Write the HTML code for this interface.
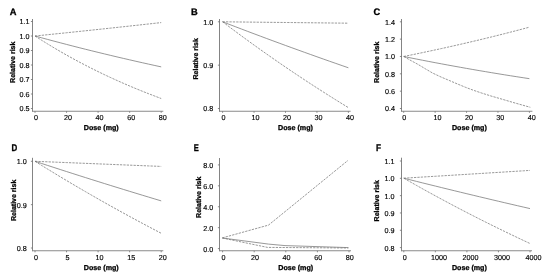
<!DOCTYPE html>
<html>
<head>
<meta charset="utf-8">
<title>Dose-response plots</title>
<style>
html,body{margin:0;padding:0;background:#fff;}
body{width:550px;height:278px;overflow:hidden;}
svg{display:block;filter:blur(0.35px);}
text{font-family:"Liberation Sans", sans-serif;fill:#000;text-rendering:geometricPrecision;}
.t{font-size:7.2px;stroke:#000;stroke-width:0.15;}
.b{font-size:7.15px;font-weight:bold;stroke:#000;stroke-width:0.28;}
.l{font-weight:bold;fill:#000;stroke:#000;stroke-width:0.3;}
.ax{stroke:#8a8a8a;stroke-width:1.1;fill:none;}
.ay{stroke:#6e6e6e;stroke-width:0.85;fill:none;}
.tk{stroke:#6e6e6e;stroke-width:0.8;fill:none;}
.s{stroke:#767676;stroke-width:0.75;fill:none;}
.d{stroke:#767676;stroke-width:0.75;fill:none;stroke-dasharray:2.3 1.1;}
</style>
</head>
<body>
<svg width="550" height="278" viewBox="0 0 550 278">
<rect x="0" y="0" width="550" height="278" fill="#ffffff"/>
<g>
<text class="l" font-size="9.3" transform="translate(9.8 14.9) scale(1 1)">A</text>
<path class="ay" d="M32.5 19V111.7"/>
<path class="ax" d="M32.1 111.3H163.3"/>
<path class="tk" d="M30.9 21.5H32.5"/><text class="t" x="29.6" y="24.45" text-anchor="end">1.1</text>
<path class="tk" d="M30.9 36H32.5"/><text class="t" x="29.6" y="38.95" text-anchor="end">1.0</text>
<path class="tk" d="M30.9 50.5H32.5"/><text class="t" x="29.6" y="53.45" text-anchor="end">0.9</text>
<path class="tk" d="M30.9 65H32.5"/><text class="t" x="29.6" y="67.95" text-anchor="end">0.8</text>
<path class="tk" d="M30.9 79.5H32.5"/><text class="t" x="29.6" y="82.45" text-anchor="end">0.7</text>
<path class="tk" d="M30.9 94H32.5"/><text class="t" x="29.6" y="96.95" text-anchor="end">0.6</text>
<path class="tk" d="M30.9 108.5H32.5"/><text class="t" x="29.6" y="111.45" text-anchor="end">0.5</text>
<path class="tk" d="M35 111.3V112.8"/><text class="t" x="35.9" y="119.9" text-anchor="middle">0</text>
<path class="tk" d="M66.55 111.3V112.8"/><text class="t" x="68.05" y="119.9" text-anchor="middle">20</text>
<path class="tk" d="M98.1 111.3V112.8"/><text class="t" x="99.6" y="119.9" text-anchor="middle">40</text>
<path class="tk" d="M129.65 111.3V112.8"/><text class="t" x="131.15" y="119.9" text-anchor="middle">60</text>
<path class="tk" d="M161.2 111.3V112.8"/><text class="t" x="162.7" y="119.9" text-anchor="middle">80</text>
<text class="b" x="101.3" y="130.2" text-anchor="middle">Dose (mg)</text>
<text class="b" style="font-size:7px" transform="translate(15 62.25) rotate(-90)" text-anchor="middle">Relative risk</text>
<path class="s" d="M35 36L41.31 37.73L47.62 39.43L53.93 41.12L60.24 42.78L66.55 44.43L72.86 46.05L79.17 47.66L85.48 49.25L91.79 50.82L98.1 52.37L104.41 53.9L110.72 55.41L117.03 56.91L123.34 58.38L129.65 59.84L135.96 61.29L142.27 62.71L148.58 64.12L154.89 65.51L161.2 66.88"/>
<path class="d" d="M35 36L41.31 35.36L47.62 34.71L53.93 34.06L60.24 33.41L66.55 32.76L72.86 32.1L79.17 31.44L85.48 30.78L91.79 30.11L98.1 29.44L104.41 28.77L110.72 28.1L117.03 27.42L123.34 26.74L129.65 26.05L135.96 25.37L142.27 24.68L148.58 23.98L154.89 23.29L161.2 22.59"/>
<path class="d" d="M35 36L41.31 40.03L47.62 43.95L53.93 47.76L60.24 51.46L66.55 55.07L72.86 58.57L79.17 61.97L85.48 65.28L91.79 68.5L98.1 71.62L104.41 74.66L110.72 77.62L117.03 80.49L123.34 83.29L129.65 86L135.96 88.65L142.27 91.21L148.58 93.71L154.89 96.14L161.2 98.5"/>
</g>
<g>
<text class="l" font-size="9.3" transform="translate(191.1 14.9) scale(1 1)">B</text>
<path class="ay" d="M219.5 19V111.7"/>
<path class="ax" d="M219.1 111.3H350.6"/>
<path class="tk" d="M217.9 21.8H219.5"/><text class="t" x="213.2" y="24.75" text-anchor="end">1.0</text>
<path class="tk" d="M217.9 65.15H219.5"/><text class="t" x="213.2" y="68.1" text-anchor="end">0.9</text>
<path class="tk" d="M217.9 108.5H219.5"/><text class="t" x="213.2" y="111.45" text-anchor="end">0.8</text>
<path class="tk" d="M222.6 111.3V112.8"/><text class="t" x="223.5" y="119.9" text-anchor="middle">0</text>
<path class="tk" d="M254.05 111.3V112.8"/><text class="t" x="255.55" y="119.9" text-anchor="middle">10</text>
<path class="tk" d="M285.5 111.3V112.8"/><text class="t" x="287" y="119.9" text-anchor="middle">20</text>
<path class="tk" d="M316.95 111.3V112.8"/><text class="t" x="318.45" y="119.9" text-anchor="middle">30</text>
<path class="tk" d="M348.4 111.3V112.8"/><text class="t" x="349.9" y="119.9" text-anchor="middle">40</text>
<text class="b" x="295.5" y="130.2" text-anchor="middle">Dose (mg)</text>
<text class="b" style="font-size:7px" transform="translate(197.8 58.85) rotate(-90)" text-anchor="middle">Relative risk</text>
<path class="s" d="M222.6 21.8L228.89 24.22L235.18 26.64L241.47 29.03L247.76 31.42L254.05 33.79L260.34 36.14L266.63 38.49L272.92 40.82L279.21 43.14L285.5 45.44L291.79 47.73L298.08 50.01L304.37 52.28L310.66 54.53L316.95 56.77L323.24 59L329.53 61.22L335.82 63.42L342.11 65.62L348.4 67.79"/>
<path class="d" d="M222.6 21.8L228.89 21.87L235.18 21.94L241.47 22.01L247.76 22.08L254.05 22.15L260.34 22.22L266.63 22.29L272.92 22.36L279.21 22.42L285.5 22.49L291.79 22.56L298.08 22.63L304.37 22.7L310.66 22.77L316.95 22.84L323.24 22.91L329.53 22.98L335.82 23.05L342.11 23.12L348.4 23.19"/>
<path class="d" d="M222.6 21.8L228.89 26.56L235.18 31.26L241.47 35.91L247.76 40.51L254.05 45.07L260.34 49.57L266.63 54.02L272.92 58.42L279.21 62.77L285.5 67.08L291.79 71.34L298.08 75.55L304.37 79.72L310.66 83.84L316.95 87.92L323.24 91.95L329.53 95.93L335.82 99.88L342.11 103.78L348.4 107.63"/>
</g>
<g>
<text class="l" font-size="9.3" transform="translate(373.6 14.9) scale(1 1)">C</text>
<path class="ay" d="M401.5 19V111.7"/>
<path class="ax" d="M401.1 111.3H532.4"/>
<path class="tk" d="M399.9 21.8H401.5"/><text class="t" x="395" y="24.75" text-anchor="end">1.4</text>
<path class="tk" d="M399.9 39.14H401.5"/><text class="t" x="395" y="42.09" text-anchor="end">1.2</text>
<path class="tk" d="M399.9 56.48H401.5"/><text class="t" x="395" y="59.43" text-anchor="end">1.0</text>
<path class="tk" d="M399.9 73.82H401.5"/><text class="t" x="395" y="76.77" text-anchor="end">0.8</text>
<path class="tk" d="M399.9 91.16H401.5"/><text class="t" x="395" y="94.11" text-anchor="end">0.6</text>
<path class="tk" d="M399.9 108.5H401.5"/><text class="t" x="395" y="111.45" text-anchor="end">0.4</text>
<path class="tk" d="M403.7 111.3V112.8"/><text class="t" x="404.2" y="119.9" text-anchor="middle">0</text>
<path class="tk" d="M435.12 111.3V112.8"/><text class="t" x="437.52" y="119.9" text-anchor="middle">10</text>
<path class="tk" d="M466.55 111.3V112.8"/><text class="t" x="468.95" y="119.9" text-anchor="middle">20</text>
<path class="tk" d="M497.97 111.3V112.8"/><text class="t" x="500.37" y="119.9" text-anchor="middle">30</text>
<path class="tk" d="M529.4 111.3V112.8"/><text class="t" x="531.8" y="119.9" text-anchor="middle">40</text>
<text class="b" x="469.4" y="130.2" text-anchor="middle">Dose (mg)</text>
<text class="b" style="font-size:7px" transform="translate(379.1 62.25) rotate(-90)" text-anchor="middle">Relative risk</text>
<path class="s" d="M403.7 56.48L409.99 57.75L416.27 59.01L422.56 60.24L428.84 61.46L435.12 62.66L441.41 63.84L447.69 65L453.98 66.15L460.26 67.28L466.55 68.4L472.83 69.49L479.12 70.58L485.4 71.64L491.69 72.69L497.97 73.73L504.26 74.75L510.54 75.75L516.83 76.74L523.12 77.71L529.4 78.68"/>
<path class="d" d="M403.7 56.48L409.99 55.21L416.27 53.92L422.56 52.61L428.84 51.28L435.12 49.93L441.41 48.57L447.69 47.18L453.98 45.77L460.26 44.34L466.55 42.89L472.83 41.42L479.12 39.93L485.4 38.42L491.69 36.88L497.97 35.32L504.26 33.74L510.54 32.13L516.83 30.5L523.12 28.85L529.4 27.18"/>
<path class="d" d="M403.8 56.5L411 60.6L418.2 64.5L425.5 68.9L432.7 73.1L441 77L449.1 80.4L457.5 84L465.5 87.3L473.5 90.3L481.8 93.1L491 96L500 98.6L515 103L530.3 107.3"/>
</g>
<g>
<text class="l" font-size="9.7" transform="translate(11.6 151) scale(0.82 1)">D</text>
<path class="ay" d="M32.5 157.8V251.2"/>
<path class="ax" d="M32.1 250.8H163.3"/>
<path class="tk" d="M30.9 161.3H32.5"/><text class="t" x="26.8" y="164.25" text-anchor="end">1.0</text>
<path class="tk" d="M30.9 204.65H32.5"/><text class="t" x="26.8" y="207.6" text-anchor="end">0.9</text>
<path class="tk" d="M30.9 248H32.5"/><text class="t" x="26.8" y="250.95" text-anchor="end">0.8</text>
<path class="tk" d="M35 250.8V252.3"/><text class="t" x="35.9" y="260" text-anchor="middle">0</text>
<path class="tk" d="M66.55 250.8V252.3"/><text class="t" x="67.45" y="260" text-anchor="middle">5</text>
<path class="tk" d="M98.1 250.8V252.3"/><text class="t" x="99.6" y="260" text-anchor="middle">10</text>
<path class="tk" d="M129.65 250.8V252.3"/><text class="t" x="131.15" y="260" text-anchor="middle">15</text>
<path class="tk" d="M161.2 250.8V252.3"/><text class="t" x="162.7" y="260" text-anchor="middle">20</text>
<text class="b" x="101.3" y="270.2" text-anchor="middle">Dose (mg)</text>
<text class="b" style="font-size:7px" transform="translate(15.5 200.35) rotate(-90)" text-anchor="middle">Relative risk</text>
<path class="s" d="M35 161.3L41.31 163.37L47.62 165.43L53.93 167.48L60.24 169.52L66.55 171.55L72.86 173.57L79.17 175.59L85.48 177.59L91.79 179.58L98.1 181.56L104.41 183.54L110.72 185.5L117.03 187.45L123.34 189.4L129.65 191.34L135.96 193.26L142.27 195.18L148.58 197.09L154.89 198.99L161.2 200.88"/>
<path class="d" d="M35 161.3L41.31 161.56L47.62 161.81L53.93 162.07L60.24 162.33L66.55 162.58L72.86 162.84L79.17 163.1L85.48 163.35L91.79 163.61L98.1 163.87L104.41 164.12L110.72 164.38L117.03 164.63L123.34 164.89L129.65 165.14L135.96 165.4L142.27 165.65L148.58 165.91L154.89 166.16L161.2 166.42"/>
<path class="d" d="M35 161.3L41.31 165.22L47.62 169.1L53.93 172.94L60.24 176.76L66.55 180.53L72.86 184.28L79.17 187.98L85.48 191.66L91.79 195.3L98.1 198.91L104.41 202.49L110.72 206.03L117.03 209.55L123.34 213.03L129.65 216.48L135.96 219.89L142.27 223.28L148.58 226.64L154.89 229.96L161.2 233.26"/>
</g>
<g>
<text class="l" font-size="9.7" transform="translate(193.8 151) scale(0.78 1)">E</text>
<path class="ay" d="M219.5 158V251.2"/>
<path class="ax" d="M219.1 250.8H351"/>
<path class="tk" d="M217.9 164.9H219.5"/><text class="t" x="213.2" y="167.85" text-anchor="end">8.0</text>
<path class="tk" d="M217.9 185.82H219.5"/><text class="t" x="213.2" y="188.77" text-anchor="end">6.0</text>
<path class="tk" d="M217.9 206.75H219.5"/><text class="t" x="213.2" y="209.7" text-anchor="end">4.0</text>
<path class="tk" d="M217.9 227.68H219.5"/><text class="t" x="213.2" y="230.62" text-anchor="end">2.0</text>
<path class="tk" d="M217.9 248.6H219.5"/><text class="t" x="213.2" y="251.55" text-anchor="end">0.0</text>
<path class="tk" d="M222.6 250.8V252.3"/><text class="t" x="223.5" y="260.3" text-anchor="middle">0</text>
<path class="tk" d="M254.2 250.8V252.3"/><text class="t" x="255" y="260.3" text-anchor="middle">20</text>
<path class="tk" d="M285.8 250.8V252.3"/><text class="t" x="286.6" y="260.3" text-anchor="middle">40</text>
<path class="tk" d="M317.4 250.8V252.3"/><text class="t" x="318.2" y="260.3" text-anchor="middle">60</text>
<path class="tk" d="M349 250.8V252.3"/><text class="t" x="349.8" y="260.3" text-anchor="middle">80</text>
<text class="b" x="295.7" y="269.7" text-anchor="middle">Dose (mg)</text>
<text class="b" style="font-size:7px" transform="translate(200.6 197.25) rotate(-90)" text-anchor="middle">Relative risk</text>
<path class="s" d="M222.3 238L268.5 244.1L285 245.6L348.4 247.6"/>
<path class="d" d="M222.3 237.9L268.5 225.1L348 160.4"/>
<path class="d" d="M222.3 238L267.5 247.4L348.4 248"/>
</g>
<g>
<text class="l" font-size="9.7" transform="translate(375.9 150.8) scale(0.85 1)">F</text>
<path class="ay" d="M401.5 157.7V251.2"/>
<path class="ax" d="M401.1 250.8H532"/>
<path class="tk" d="M399.9 161H401.5"/><text class="t" x="394.6" y="163.95" text-anchor="end">1.1</text>
<path class="tk" d="M399.9 178.32H401.5"/><text class="t" x="394.6" y="181.27" text-anchor="end">1.0</text>
<path class="tk" d="M399.9 195.64H401.5"/><text class="t" x="394.6" y="198.59" text-anchor="end">1.0</text>
<path class="tk" d="M399.9 212.96H401.5"/><text class="t" x="394.6" y="215.91" text-anchor="end">0.9</text>
<path class="tk" d="M399.9 230.28H401.5"/><text class="t" x="394.6" y="233.23" text-anchor="end">0.9</text>
<path class="tk" d="M399.9 247.6H401.5"/><text class="t" x="394.6" y="250.55" text-anchor="end">0.8</text>
<path class="tk" d="M403.8 250.8V252.3"/><text class="t" x="404.7" y="259.7" text-anchor="middle">0</text>
<path class="tk" d="M435.35 250.8V252.3"/><text class="t" x="438.95" y="259.7" text-anchor="middle">1000</text>
<path class="tk" d="M466.9 250.8V252.3"/><text class="t" x="470.5" y="259.7" text-anchor="middle">2000</text>
<path class="tk" d="M498.45 250.8V252.3"/><text class="t" x="502.05" y="259.7" text-anchor="middle">3000</text>
<path class="tk" d="M530 250.8V252.3"/><text class="t" x="533.6" y="259.7" text-anchor="middle">4000</text>
<text class="b" x="469.4" y="269.9" text-anchor="middle">Dose (mg)</text>
<text class="b" style="font-size:7px" transform="translate(379.1 200.75) rotate(-90)" text-anchor="middle">Relative risk</text>
<path class="s" d="M403.8 178.2L410.11 179.79L416.42 181.37L422.73 182.94L429.04 184.51L435.35 186.06L441.66 187.61L447.97 189.16L454.28 190.7L460.59 192.22L466.9 193.75L473.21 195.26L479.52 196.77L485.83 198.27L492.14 199.77L498.45 201.26L504.76 202.74L511.07 204.21L517.38 205.68L523.69 207.14L530 208.59"/>
<path class="d" d="M403.8 178.2L410.11 177.81L416.42 177.43L422.73 177.04L429.04 176.65L435.35 176.27L441.66 175.88L447.97 175.49L454.28 175.1L460.59 174.71L466.9 174.32L473.21 173.93L479.52 173.54L485.83 173.15L492.14 172.76L498.45 172.37L504.76 171.98L511.07 171.58L517.38 171.19L523.69 170.8L530 170.4"/>
<path class="d" d="M403.8 178.2L410.11 181.8L416.42 185.36L422.73 188.89L429.04 192.38L435.35 195.83L441.66 199.25L447.97 202.63L454.28 205.98L460.59 209.29L466.9 212.57L473.21 215.81L479.52 219.02L485.83 222.19L492.14 225.33L498.45 228.44L504.76 231.52L511.07 234.56L517.38 237.58L523.69 240.56L530 243.51"/>
</g>
</svg>
</body>
</html>
